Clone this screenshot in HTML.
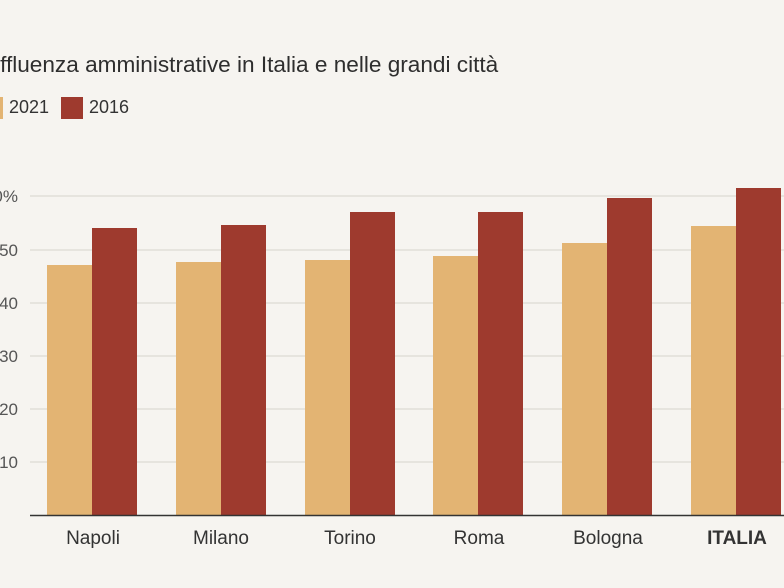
<!DOCTYPE html>
<html><head><meta charset="utf-8"><style>
body{margin:0;width:784px;height:588px;background:#f6f4f0;overflow:hidden;font-family:"Liberation Sans",sans-serif;color:#333;position:relative}
.t{position:absolute;white-space:nowrap}
</style></head><body>
<div class="t" style="left:-15px;top:52px;font-size:22.6px;color:#2e2e2e">Affluenza amministrative in Italia e nelle grandi città</div>
<div style="position:absolute;left:-18px;top:97px;width:21px;height:22px;background:#e3b473"></div>
<div class="t" style="left:9px;top:97px;font-size:18px">2021</div>
<div style="position:absolute;left:61px;top:97px;width:22px;height:22px;background:#9e3a2e"></div>
<div class="t" style="left:89px;top:97px;font-size:18px">2016</div>
<svg width="784" height="588" style="position:absolute;left:0;top:0" font-family="Liberation Sans, sans-serif">
<g stroke="#dcd9d3" stroke-width="1.3">
<line x1="30" x2="784" y1="196" y2="196"/><line x1="30" x2="784" y1="250" y2="250"/>
<line x1="30" x2="784" y1="303" y2="303"/><line x1="30" x2="784" y1="356" y2="356"/>
<line x1="30" x2="784" y1="409" y2="409"/><line x1="30" x2="784" y1="462" y2="462"/>
</g>
<g font-size="17" fill="#555" text-anchor="end">
<text x="18" y="202">60%</text><text x="18" y="256">50</text><text x="18" y="309">40</text>
<text x="18" y="362">30</text><text x="18" y="415">20</text><text x="18" y="468">10</text>
</g>
<g fill="#e3b473">
<rect x="47" y="265" width="45" height="250"/><rect x="176" y="262" width="45" height="253"/>
<rect x="305" y="260" width="45" height="255"/><rect x="433" y="256" width="45" height="259"/>
<rect x="562" y="243" width="45" height="272"/><rect x="691" y="226" width="45" height="289"/>
</g>
<g fill="#9e3a2e">
<rect x="92" y="228" width="45" height="287"/><rect x="221" y="225" width="45" height="290"/>
<rect x="350" y="212" width="45" height="303"/><rect x="478" y="212" width="45" height="303"/>
<rect x="607" y="198" width="45" height="317"/><rect x="736" y="188" width="45" height="327"/>
</g>
<line x1="30" x2="784" y1="515.5" y2="515.5" stroke="#333" stroke-width="1.5"/>
<g font-size="19" fill="#333" text-anchor="middle">
<text x="93" y="544">Napoli</text><text x="221" y="544">Milano</text><text x="350" y="544">Torino</text>
<text x="479" y="544">Roma</text><text x="608" y="544">Bologna</text>
<text x="737" y="544" font-weight="bold">ITALIA</text>
</g>
</svg>
</body></html>
